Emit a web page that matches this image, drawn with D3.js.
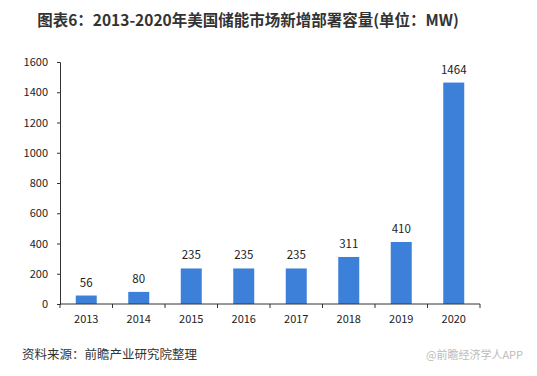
<!DOCTYPE html>
<html>
<head>
<meta charset="utf-8">
<script src="https://cdn.jsdelivr.net/npm/d3@7"></script>
<style>
  body { margin: 0; background: #fff; }
  text { font-family: "Microsoft YaHei", "Noto Sans CJK SC", sans-serif; }
</style>
</head>
<body>
<svg id="mainsvg" width="537" height="376"></svg>
<script>
const years = ['2013', '2014', '2015', '2016', '2017', '2018', '2019', '2020'];
const values = [56, 80, 235, 235, 235, 311, 410, 1464];
const yTicks = [0, 200, 400, 600, 800, 1000, 1200, 1400, 1600];

const svg = d3.select('#mainsvg');
const plotLeft = 60, plotRight = 480, plotTop = 62, plotBottom = 304;

const x = d3.scaleBand().domain(years).range([plotLeft, plotRight]).paddingInner(0.6).paddingOuter(0.3);
const y = d3.scaleLinear().domain([0, 1600]).range([plotBottom, plotTop]);

svg.append('rect').attr('width', 537).attr('height', 376).attr('fill', '#fff');

// title
svg.append('text')
  .attr('x', 248).attr('y', 26)
  .attr('text-anchor', 'middle')
  .attr('font-size', 15.5).attr('font-weight', 'bold').attr('fill', '#333')
  .text('图表6：2013-2020年美国储能市场新增部署容量(单位：MW)');

// bars
svg.selectAll('rect.bar').data(values).join('rect')
  .attr('class', 'bar')
  .attr('x', (d, i) => x(years[i]))
  .attr('width', x.bandwidth())
  .attr('y', d => y(d))
  .attr('height', d => plotBottom - y(d))
  .attr('fill', '#3d80d9');

svg.selectAll('text.val').data(values).join('text')
  .attr('class', 'val')
  .attr('x', (d, i) => x(years[i]) + x.bandwidth() / 2)
  .attr('y', d => y(d) - 9)
  .attr('text-anchor', 'middle')
  .attr('font-size', 11.5).attr('fill', '#222')
  .text(d => d);

// y axis
const yAxis = svg.append('g')
  .attr('transform', `translate(${plotLeft},0)`)
  .call(d3.axisLeft(y).tickValues(yTicks).tickFormat(d3.format('d')).tickSize(3).tickPadding(9));
yAxis.select('.domain').attr('stroke', '#333');
yAxis.selectAll('.tick line').attr('stroke', '#333');
yAxis.selectAll('.tick text').attr('font-size', 11).attr('fill', '#222')
  .style('font-family', '"Microsoft YaHei", "Noto Sans CJK SC", sans-serif');

// x axis
const step = (plotRight - plotLeft) / years.length;
const xAxis = svg.append('g').attr('transform', `translate(0,${plotBottom})`);
xAxis.append('line').attr('x1', plotLeft).attr('x2', plotRight).attr('stroke', '#333');
xAxis.selectAll('line.tk').data(d3.range(years.length + 1)).join('line')
  .attr('class', 'tk')
  .attr('x1', i => plotLeft + i * step).attr('x2', i => plotLeft + i * step)
  .attr('y1', 0).attr('y2', 4).attr('stroke', '#333');
xAxis.selectAll('text').data(years).join('text')
  .attr('x', d => x(d) + x.bandwidth() / 2)
  .attr('y', 19)
  .attr('text-anchor', 'middle')
  .attr('font-size', 11).attr('fill', '#222')
  .text(d => d);

// source
svg.append('text')
  .attr('x', 22).attr('y', 359)
  .attr('font-size', 12.5).attr('fill', '#333')
  .text('资料来源：前瞻产业研究院整理');

svg.append('text')
  .attr('x', 426).attr('y', 359)
  .attr('font-size', 11).attr('fill', '#bbb')
  .text('@前瞻经济学人APP');
</script>
</body>
</html>
